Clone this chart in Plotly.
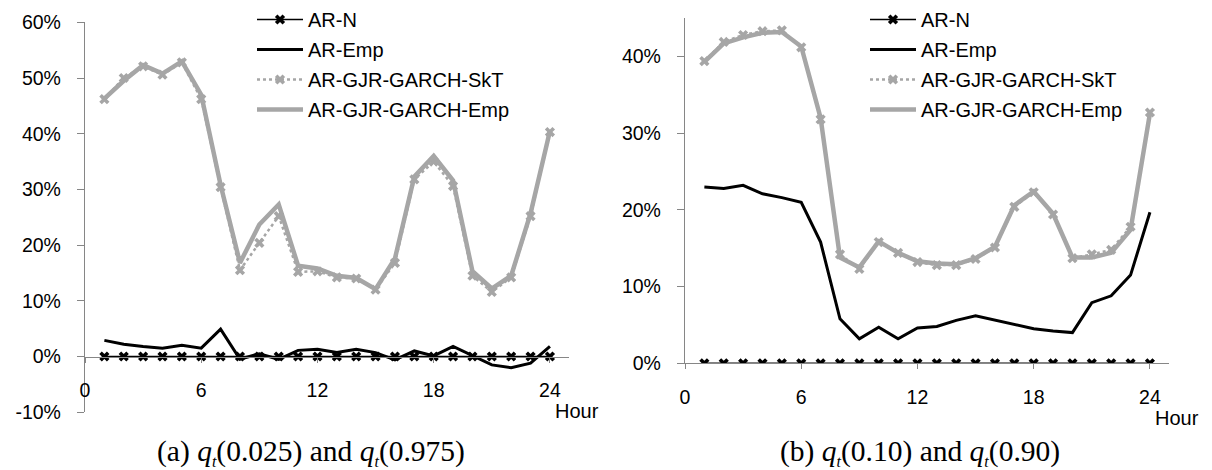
import plotly.graph_objects as go

W, H = 1212, 470

hours = list(range(1, 25))
series_names = ["AR-N", "AR-Emp", "AR-GJR-GARCH-SkT", "AR-GJR-GARCH-Emp"]

# Panel (a): q_t(0.025) and q_t(0.975)  -- values in %
a_ar_n = [0.0] * 24
a_ar_emp = [2.9, 2.2, 1.8, 1.5, 2.0, 1.5, 4.9, -0.5, 0.5, -0.5, 1.1, 1.3,
            0.7, 1.3, 0.7, -0.6, 1.0, 0.1, 1.8, 0.1, -1.5, -2.0, -1.2, 1.8]
a_gjr_skt = [46.2, 50.0, 52.1, 50.6, 52.8, 46.2, 30.4, 15.5, 20.4, 25.2, 15.2, 15.3,
             14.2, 14.0, 12.0, 16.8, 31.8, 35.0, 30.6, 14.5, 11.6, 14.2, 25.2, 40.3]
a_gjr_emp = [46.3, 49.5, 52.3, 50.8, 53.0, 47.0, 30.8, 16.8, 23.7, 27.3, 16.3, 15.8,
             14.5, 14.1, 12.1, 17.6, 32.3, 36.0, 31.6, 15.3, 12.2, 14.5, 25.7, 40.5]

# Panel (b): q_t(0.10) and q_t(0.90)  -- values in %
b_ar_n = [0.0] * 24
b_ar_emp = [23.0, 22.8, 23.2, 22.1, 21.6, 21.0, 15.8, 5.8, 3.2, 4.7, 3.2, 4.6,
            4.8, 5.6, 6.2, 5.6, 5.1, 4.5, 4.2, 4.0, 7.9, 8.8, 11.5, 19.7]
b_gjr_skt = [39.4, 41.9, 42.8, 43.3, 43.4, 41.2, 31.8, 14.2, 12.3, 15.8, 14.4, 13.2,
             12.8, 12.8, 13.6, 15.1, 20.4, 22.3, 19.4, 13.7, 14.2, 14.8, 17.8, 32.7]
b_gjr_emp = [39.3, 41.7, 42.5, 43.1, 43.2, 41.3, 32.0, 13.8, 12.5, 15.9, 14.4, 13.3,
             13.0, 12.9, 13.7, 15.2, 20.6, 22.4, 19.5, 13.8, 13.8, 14.4, 17.4, 32.6]

x_tickvals = [0, 6, 12, 18, 24]
x_ticktext = ["0", "6", "12", "18", "24"]
a_y_tickvals = [-0.1, 0.0, 0.1, 0.2, 0.3, 0.4, 0.5, 0.6]
a_y_ticktext = ["-10%", "0%", "10%", "20%", "30%", "40%", "50%", "60%"]
b_y_tickvals = [0.0, 0.1, 0.2, 0.3, 0.4]
b_y_ticktext = ["0%", "10%", "20%", "30%", "40%"]

caption_a = ("(a) <i>q</i><sub><i><span style='font-size:16px'>t</span></i></sub>(0.025) and "
             "<i>q</i><sub><i><span style='font-size:16px'>t</span></i></sub>(0.975)")
caption_b = ("(b) <i>q</i><sub><i><span style='font-size:16px'>t</span></i></sub>(0.10) and "
             "<i>q</i><sub><i><span style='font-size:16px'>t</span></i></sub>(0.90)")

BLACK = "#000000"
GREY = "#A6A6A6"
AXIS = "#868686"
FONT = "Liberation Sans"


def px_x(p):
    return p / W


def px_y(p):
    return 1 - p / H


fig = go.Figure()


def add_panel(xa, ya, legend, vals, prefix):
    ar_n, ar_emp, skt, emp = vals
    pct = lambda v: [x / 100 for x in v]
    fig.add_trace(go.Scatter(
        x=hours, y=pct(ar_n), name=series_names[0], mode="lines+markers",
        line=dict(color=BLACK, width=1.5),
        marker=dict(symbol="x", size=9, color=BLACK),
        xaxis=xa, yaxis=ya, legend=legend, legendgroup=prefix + "1"))
    fig.add_trace(go.Scatter(
        x=hours, y=pct(ar_emp), name=series_names[1], mode="lines",
        line=dict(color=BLACK, width=3),
        xaxis=xa, yaxis=ya, legend=legend, legendgroup=prefix + "2"))
    fig.add_trace(go.Scatter(
        x=hours, y=pct(skt), name=series_names[2], mode="lines+markers",
        line=dict(color=GREY, width=2.5, dash="dot"),
        marker=dict(symbol="x", size=9, color=GREY),
        xaxis=xa, yaxis=ya, legend=legend, legendgroup=prefix + "3"))
    fig.add_trace(go.Scatter(
        x=hours, y=pct(emp), name=series_names[3], mode="lines",
        line=dict(color=GREY, width=4.5),
        xaxis=xa, yaxis=ya, legend=legend, legendgroup=prefix + "4"))


add_panel("x", "y", "legend", (a_ar_n, a_ar_emp, a_gjr_skt, a_gjr_emp), "a")
add_panel("x2", "y2", "legend2", (b_ar_n, b_ar_emp, b_gjr_skt, b_gjr_emp), "b")

# pixel geometry
a_left, a_right = 85, 569.3
a_zero, a_10 = 356.5, 55.7
a_top, a_bot = a_zero - 6 * a_10, a_zero + a_10
b_left, b_right = 685, 1169.3
b_zero, b_10 = 363.3, 76.7
b_top = b_zero - 4.5 * b_10

a_ydom = [px_y(a_bot), px_y(a_top)]
b_ydom = [px_y(b_zero), px_y(b_top)]

tickfont = dict(family=FONT, size=19.5, color=BLACK)

common_x = dict(range=[0, 25], tickvals=x_tickvals, ticktext=x_ticktext,
                showline=True, linecolor=AXIS, linewidth=1.3,
                ticks="outside", ticklen=5, tickcolor=AXIS,
                showgrid=False, zeroline=False, tickfont=tickfont,
                ticklabelstandoff=11, automargin=False)
common_y = dict(showline=True, linecolor=AXIS, linewidth=1.3,
                ticks="outside", ticklen=7, tickcolor=AXIS,
                showgrid=False, zeroline=False, tickfont=tickfont,
                ticklabelstandoff=12, automargin=False)

legend_font = dict(family=FONT, size=20, color=BLACK)

fig.update_layout(
    width=W, height=H,
    margin=dict(l=0, r=0, t=0, b=0, autoexpand=False),
    paper_bgcolor="white", plot_bgcolor="white",
    xaxis=dict(domain=[px_x(a_left), px_x(a_right)], anchor="free",
               position=px_y(a_zero), **common_x),
    yaxis=dict(domain=a_ydom, range=[-0.1, 0.6], anchor="x",
               tickvals=a_y_tickvals, ticktext=a_y_ticktext, **common_y),
    xaxis2=dict(domain=[px_x(b_left), px_x(b_right)], anchor="y2", **common_x),
    yaxis2=dict(domain=b_ydom, range=[0, 0.45], anchor="x2",
                tickvals=b_y_tickvals, ticktext=b_y_ticktext, **common_y),
    legend=dict(x=px_x(252), y=px_y(0), xanchor="left", yanchor="top",
                bgcolor="rgba(0,0,0,0)", font=legend_font,
                tracegroupgap=1, itemwidth=46),
    legend2=dict(x=px_x(865), y=px_y(0), xanchor="left", yanchor="top",
                 bgcolor="rgba(0,0,0,0)", font=legend_font,
                 tracegroupgap=1, itemwidth=46),
    showlegend=True,
)

ann_font = dict(family=FONT, size=20, color=BLACK)
fig.add_annotation(text="Hour", xref="paper", yref="paper", x=px_x(553), y=px_y(411),
                   xanchor="left", yanchor="middle", showarrow=False, font=ann_font)
fig.add_annotation(text="Hour", xref="paper", yref="paper", x=px_x(1153), y=px_y(418),
                   xanchor="left", yanchor="middle", showarrow=False, font=ann_font)
cap_font = dict(family="Liberation Serif", size=29.5, color=BLACK)
fig.add_annotation(text=caption_a, xref="paper", yref="paper", x=px_x(311), y=px_y(452),
                   xanchor="center", yanchor="middle", showarrow=False, font=cap_font)
fig.add_annotation(text=caption_b, xref="paper", yref="paper", x=px_x(920), y=px_y(452),
                   xanchor="center", yanchor="middle", showarrow=False, font=cap_font)

fig.write_html("out.html", config={"displayModeBar": False},
               post_script="document.body.style.margin='0px';document.body.style.overflow='hidden';")
